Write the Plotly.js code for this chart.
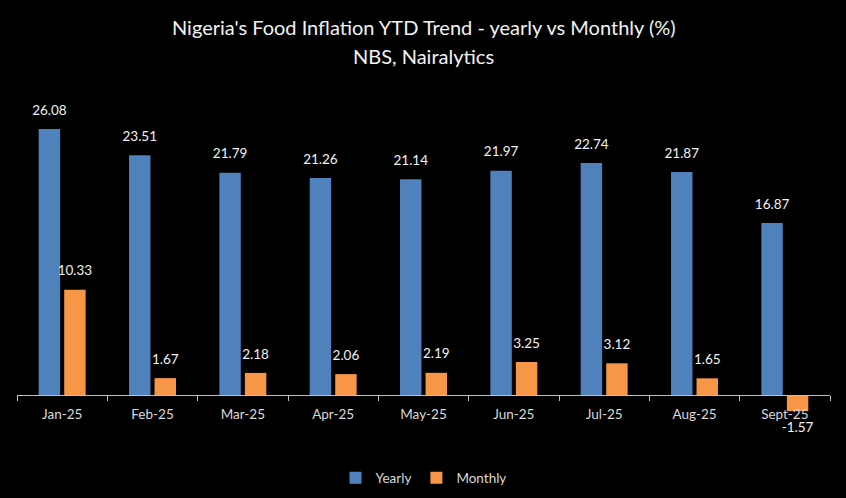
<!DOCTYPE html>
<html>
<head>
<meta charset="utf-8">
<script src="https://cdn.plot.ly/plotly-3.0.1.min.js"></script>
<style>
  html, body { margin: 0; padding: 0; background: #000; }
  #chart { width: 846px; height: 498px; }
</style>
</head>
<body>
<div id="chart"></div>
<script>
// months on the category axis
const months = ['Jan-25', 'Feb-25', 'Mar-25', 'Apr-25', 'May-25', 'Jun-25', 'Jul-25', 'Aug-25', 'Sept-25'];
// food inflation, year on year (%)
const yearly = [26.08, 23.51, 21.79, 21.26, 21.14, 21.97, 22.74, 21.87, 16.87];
// food inflation, month on month (%)
const monthly = [10.33, 1.67, 2.18, 2.06, 2.19, 3.25, 3.12, 1.65, -1.57];

const titleLines = ["Nigeria's Food Inflation YTD Trend - yearly vs Monthly (%)", 'NBS, Nairalytics'];

const yMin = -4, yMax = 29.5;
const FONT = 'Lato, "Open Sans", sans-serif';
const GAP = 0.435;

function barTrace(name, values, color) {
    return {
        type: 'bar', name, x: months, y: values, offsetgroup: name,
        marker: { color },
        hoverinfo: 'skip',
    };
}

// value labels: invisible markers + text, grouped like the bars so they sit on them
function labelTrace(name, values) {
    return {
        type: 'scatter', mode: 'markers+text', x: months, y: values, offsetgroup: name,
        text: values.map(v => v.toFixed(2)),
        textposition: values.map(v => (v < 0 ? 'bottom center' : 'top center')),
        textfont: { family: FONT, size: 13.5, color: '#f2f2f2' },
        marker: { size: 16, color: 'rgba(0,0,0,0)' },
        showlegend: false, hoverinfo: 'skip', cliponaxis: false,
    };
}

const traces = [
    barTrace('Yearly', yearly, '#4f81bd'),
    barTrace('Monthly', monthly, '#f79646'),
    labelTrace('Yearly', yearly),
    labelTrace('Monthly', monthly),
];

// plot area spans 94..436 px, title lines centred at 27 and 56 px
const plotTop = 94, plotBottom = 436;
const toPaper = py => (plotBottom - py) / (plotBottom - plotTop);

const layout = {
    width: 846, height: 498,
    paper_bgcolor: '#000', plot_bgcolor: '#000',
    font: { family: FONT, color: '#d9d9d9', size: 13 },
    margin: { l: 17, r: 16, t: plotTop, b: 498 - plotBottom },
    annotations: [
        { text: titleLines[0], xref: 'paper', yref: 'paper', x: 0.5, y: toPaper(27),
          xanchor: 'center', yanchor: 'middle', showarrow: false,
          font: { family: FONT, size: 20, color: '#f2f2f2' } },
        { text: titleLines[1], xref: 'paper', yref: 'paper', x: 0.5, y: toPaper(56),
          xanchor: 'center', yanchor: 'middle', showarrow: false,
          font: { family: FONT, size: 20, color: '#f2f2f2' } },
    ],
    barmode: 'group', bargap: GAP, bargroupgap: 0.16,
    scattermode: 'group', scattergap: GAP,
    xaxis: {
        anchor: 'free', position: -yMin / (yMax - yMin),
        showline: true, linecolor: '#bfbfbf', linewidth: 1,
        ticks: 'outside', tickson: 'boundaries', ticklen: 5, tickcolor: '#bfbfbf',
        ticklabelstandoff: 7,
        tickfont: { family: FONT, size: 13.5, color: '#d9d9d9' },
        showgrid: false, zeroline: false, layer: 'above traces',
    },
    yaxis: { range: [yMin, yMax], visible: false, showgrid: false, zeroline: false },
    showlegend: true,
    legend: {
        orientation: 'h', x: 0.5, xanchor: 'center', y: 0.04, yanchor: 'middle', yref: 'container',
        font: { family: FONT, size: 13.5, color: '#d9d9d9' }, bgcolor: 'rgba(0,0,0,0)',
    },
};

Plotly.newPlot('chart', traces, layout, { displayModeBar: false, staticPlot: true });
</script>
</body>
</html>
